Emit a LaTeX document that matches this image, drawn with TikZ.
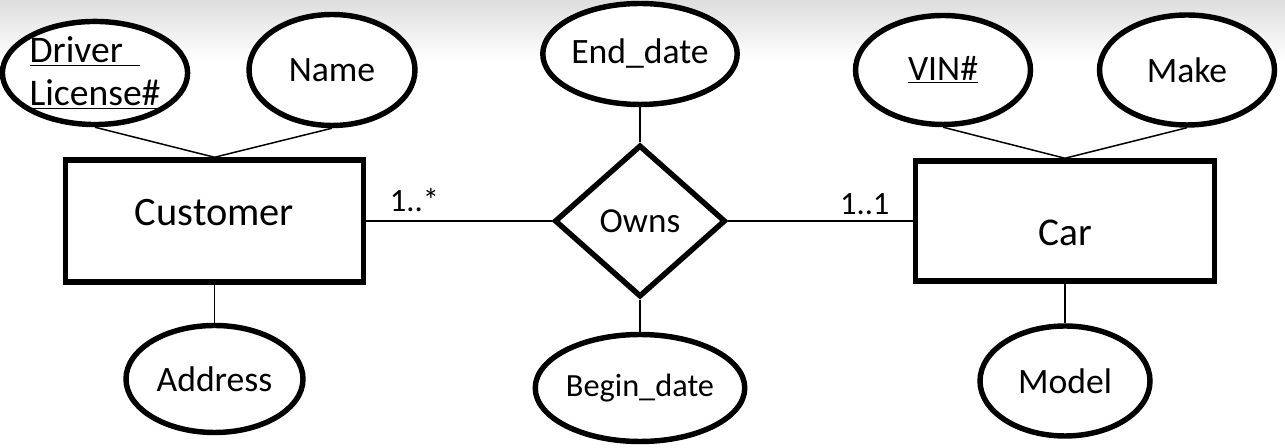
\documentclass[tikz,border=0pt]{standalone}
\usepackage{fontspec}
\setmainfont{Carlito}
\usetikzlibrary{shapes.geometric}
\usetikzlibrary{positioning}

\begin{document}
\begin{tikzpicture}[
	attr/.style = {ellipse, draw, fill = white, line width = 3.1pt, inner sep = 0pt, font = \fontsize{20.3}{24.8}\selectfont},
	entity/.style = {rectangle, draw, fill = white, line width = 3.1pt, inner sep = 0pt},
	rel/.style = {diamond, draw, fill = white, line width = 3.1pt, inner sep = 0pt, font = \fontsize{20}{24}\selectfont},
	link/.style = {line width = 0.85pt},
	card/.style = {font = \fontsize{18.5}{22}\selectfont}
]

	\shade [top color = black!13, bottom color = white] (0,7.76) rectangle (25.7,8.96);
	\useasboundingbox (0,0) rectangle (25.7,8.96);


	\node [entity, minimum width = 5.96cm, minimum height = 2.44cm,
		label = {[yshift = 0.17cm, font = \fontsize{23}{27}\selectfont]center:Customer}] (customer) at (4.29,4.54) {};

	\node [entity, minimum width = 5.98cm, minimum height = 2.40cm,
		label = {[yshift = -0.23cm, font = \fontsize{22.4}{27}\selectfont]center:Car}] (car) at (21.30,4.54) {};

	\node [rel, minimum width = 3.42cm, minimum height = 3.04cm] (owns) at (12.80,4.54) {Owns};


	\node [attr, minimum width = 3.58cm, minimum height = 2.04cm, align = left, font = \fontsize{21.4}{24.6}\selectfont] (license) at (1.90,7.50)
		{\underline{Driver\hspace{0.45em}}\\\underline{License\#}};

	\node [attr, minimum width = 3.32cm, minimum height = 2.22cm] (name) at (6.64,7.56) {Name};

	\node [attr, minimum width = 3.54cm, minimum height = 2.14cm] (address) at (4.29,1.38) {Address};

	\node [attr, minimum width = 3.40cm, minimum height = 2.02cm] (enddate) at (12.80,7.88) {End\_date};

	\node [attr, minimum width = 3.44cm, minimum height = 2.14cm, font = \fontsize{18.4}{21}\selectfont] (begindate) at (12.80,1.20) {Begin\_date};

	\node [attr, minimum width = 3.50cm, minimum height = 2.18cm] (vin) at (18.86,7.56) {\underline{VIN\#}};

	\node [attr, minimum width = 3.50cm, minimum height = 2.20cm] (make) at (23.74,7.56) {Make};

	\node [attr, minimum width = 3.40cm, minimum height = 2.20cm] (model) at (21.30,1.34) {Model};


	\draw [link] 	(license.south) -- (customer.north);
	\draw [link] 	(name.south) -- (customer.north);
	\draw [link] 	(customer.south) -- (address.north);

	\draw [link] 	(customer.east) --
					node [card, pos = 0.26, above = 0.06cm] (manycust) {1..*} (owns.west);
	\draw [link] 	(owns.east) --
					node [card, pos = 0.74, above] (onecar) {1..1} (car.west);

	\draw [link] 	(enddate.south) -- (owns.north);
	\draw [link] 	(owns.south) -- (begindate.north);

	\draw [link] 	(vin.south) -- (car.north);
	\draw [link] 	(make.south) -- (car.north);
	\draw [link] 	(car.south) -- (model.north);

\end{tikzpicture}
\end{document}
